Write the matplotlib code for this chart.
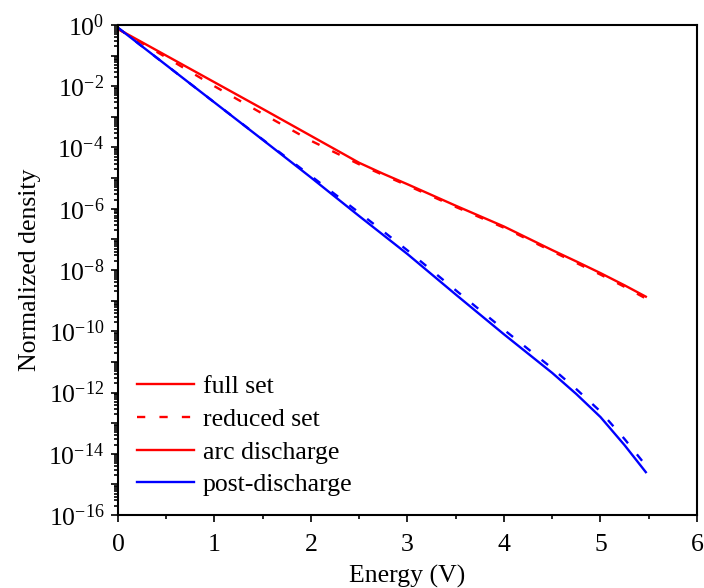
import numpy as np
import matplotlib
matplotlib.use("Agg")
import matplotlib.pyplot as plt
from matplotlib.lines import Line2D
from matplotlib.ticker import FixedLocator, LogLocator, FuncFormatter, MultipleLocator

plt.rcParams['font.family'] = ['Liberation Serif', 'DejaVu Serif']
plt.rcParams['mathtext.default'] = 'regular'

# energy grid (V)
energy = [0.0, 0.5, 1.0, 1.5, 2.0, 2.5, 2.75, 3.0, 3.5, 4.0, 4.5, 4.75, 5.0, 5.25, 5.47]

# log10 of normalized density
arc_full = [-0.13, -1.00, -1.87, -2.74, -3.62, -4.50, -4.86, -5.20, -5.90, -6.58, -7.35, -7.72, -8.10, -8.50, -8.87]
arc_reduced = [-0.13, -1.06, -2.00, -2.90, -3.78, -4.55, -4.90, -5.24, -5.94, -6.62, -7.39, -7.77, -8.15, -8.55, -8.93]
post_full = [-0.09, -1.31, -2.53, -3.75, -4.98, -6.24, -6.86, -7.48, -8.80, -10.10, -11.36, -12.05, -12.80, -13.72, -14.60]
post_reduced = [-0.09, -1.31, -2.53, -3.74, -4.93, -6.13, -6.74, -7.36, -8.66, -9.95, -11.21, -11.89, -12.62, -13.52, -14.38]

legend_labels = ['full set', 'reduced set', 'arc discharge', 'post-discharge']

red = '#ff0000'
blue = '#0000ff'
dash = (3.5, 6.0)
fs = 18.5
lw = 1.7

fig = plt.figure(figsize=(7.04, 5.88), dpi=100)
ax = fig.add_axes([0.1676, 0.1241, 0.8224, 0.8334])

E = np.array(energy)
ax.plot(E, 10 ** np.array(arc_reduced), color=red, lw=lw, ls=(0, dash))
ax.plot(E, 10 ** np.array(post_reduced), color=blue, lw=lw, ls=(0, dash))
ax.plot(E, 10 ** np.array(arc_full), color=red, lw=lw)
ax.plot(E, 10 ** np.array(post_full), color=blue, lw=lw)

ax.set_yscale('log')
ax.set_xlim(0, 6)
ax.set_ylim(1e-16, 1e0)

ax.xaxis.set_major_locator(MultipleLocator(1))
ax.xaxis.set_minor_locator(MultipleLocator(0.5))
ax.yaxis.set_major_locator(FixedLocator([10.0 ** k for k in range(-16, 1)]))
ax.yaxis.set_minor_locator(LogLocator(base=10, subs=np.arange(2, 10), numticks=100))


def ylab(v, pos):
    k = int(round(np.log10(v)))
    if k % 2:
        return ''
    return r'$10^{%d}$' % k


ax.yaxis.set_major_formatter(FuncFormatter(ylab))
ax.tick_params(which='both', direction='out', top=False, right=False, labelsize=fs, width=1.2)
ax.tick_params(which='major', length=5)
ax.tick_params(which='minor', length=3)
ax.tick_params(axis='x', which='major', pad=9)
ax.tick_params(axis='y', which='major', pad=5)
for s in ax.spines.values():
    s.set_linewidth(1.5)

ax.set_xlabel('Energy (V)', fontsize=fs, labelpad=6)
ax.set_ylabel('Normalized density', fontsize=fs, labelpad=5)

handles = [Line2D([], [], color=red, lw=lw),
           Line2D([], [], color=red, lw=lw, ls=(0, dash)),
           Line2D([], [], color=red, lw=lw),
           Line2D([], [], color=blue, lw=lw)]
ax.legend(handles, legend_labels, loc='lower left', bbox_to_anchor=(0.033, 0.038),
          frameon=False, fontsize=fs, handlelength=2.2, handletextpad=0.35,
          labelspacing=0.38, borderpad=0, borderaxespad=0)

fig.savefig('out.png', dpi=100)
